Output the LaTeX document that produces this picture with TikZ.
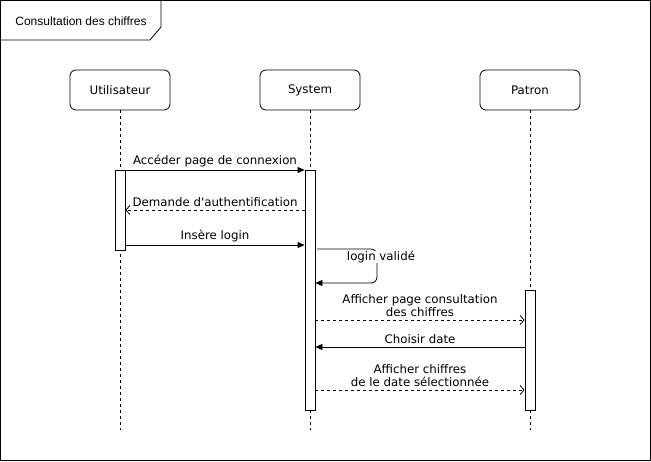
\documentclass[tikz,border=0pt]{standalone}
\usepackage{fontspec}
\setmainfont{DejaVu Sans}[Ligatures=TeXOff]
\newfontfamily\titlefont{Liberation Sans}
\usetikzlibrary{arrows.meta}
\begin{document}
\begin{tikzpicture}[x=1pt,y=-1pt,
  every node/.style={font=\fontsize{11.8}{13.5}\selectfont, inner sep=1pt},
  actor/.style={draw, rounded corners=6pt, minimum width=100pt, minimum height=40pt, line width=0.8pt},
  act/.style={draw, fill=white, line width=0.8pt},
  life/.style={line width=0.8pt, dash pattern=on 3pt off 3pt},
  msg/.style={line width=0.8pt, -{Triangle[length=7pt,width=6pt]}},
  ret/.style={line width=0.8pt, dash pattern=on 3pt off 3pt, -{Straight Barb[length=4pt,width=9pt]}},
  lbl/.style={fill=white, align=center, inner sep=0.5pt}
]
\useasboundingbox (0,0) rectangle (651,461);
% frame
\draw[line width=0.8pt] (0.5,0.5) rectangle (650,460);
\draw[line width=0.8pt] (0.5,40) -- (150,40) -- (161,27) -- (161,0.5);
\node[font=\titlefont\fontsize{12}{14}\selectfont, anchor=center] (title) at (81,21) {Consultation des chiffres};
% actors
\node[actor] (u) at (120,90) {Utilisateur};
\node[actor] (s) at (310,90) {System};
\node[actor] (p) at (530,90) {Patron};
\coordinate (ue) at (120,430);
\coordinate (se) at (310,430);
\coordinate (pe) at (530,430);
\draw[life] (u.south) -- (ue);
\draw[life] (s.south) -- (se);
\draw[life] (p.south) -- (pe);
% activations
\node[act, minimum width=10pt, minimum height=80pt, inner sep=0pt, anchor=north] (ua) at (120,170) {};
\node[act, minimum width=10pt, minimum height=240pt, inner sep=0pt, anchor=north] (sa) at (310,170) {};
\node[act, minimum width=10pt, minimum height=120pt, inner sep=0pt, anchor=north] (pa) at (530,290) {};
% messages
\draw[msg] (ua.north east) -- (sa.north west) node[midway, above=2pt, lbl] (m1) {Accéder page de connexion};
\draw[ret] (sa.west |- 0,210) -- (ua.east |- 0,210) node[midway, above=2pt, lbl] (m2) {Demande d'authentification};
\draw[msg] (ua.east |- 0,245) -- (sa.west |- 0,245) node[midway, above=2pt, lbl] (m3) {Insère login};
% self message
\coordinate (s1) at (317,249);
\coordinate (s2) at (377,249);
\coordinate (s3) at (377,283);
\draw[line width=0.8pt, rounded corners=6pt, -{Triangle[length=7pt,width=6pt]}] (s1) -- (s2) -- (s3) -- (sa.east |- s3);
\node[lbl] (m4) at (381,257) {login validé};
% to patron
\draw[ret] (sa.east |- 0,320) -- (pa.west |- 0,320) node[midway, above=2pt, lbl] (m5) {Afficher page consultation\\des chiffres};
\draw[msg] (pa.west |- 0,347) -- (sa.east |- 0,347) node[midway, above=2pt, lbl] (m6) {Choisir date};
\draw[ret] (sa.east |- 0,390) -- (pa.west |- 0,390) node[midway, above=2pt, lbl] (m7) {Afficher chiffres\\de le date sélectionnée};
\end{tikzpicture}
\end{document}
